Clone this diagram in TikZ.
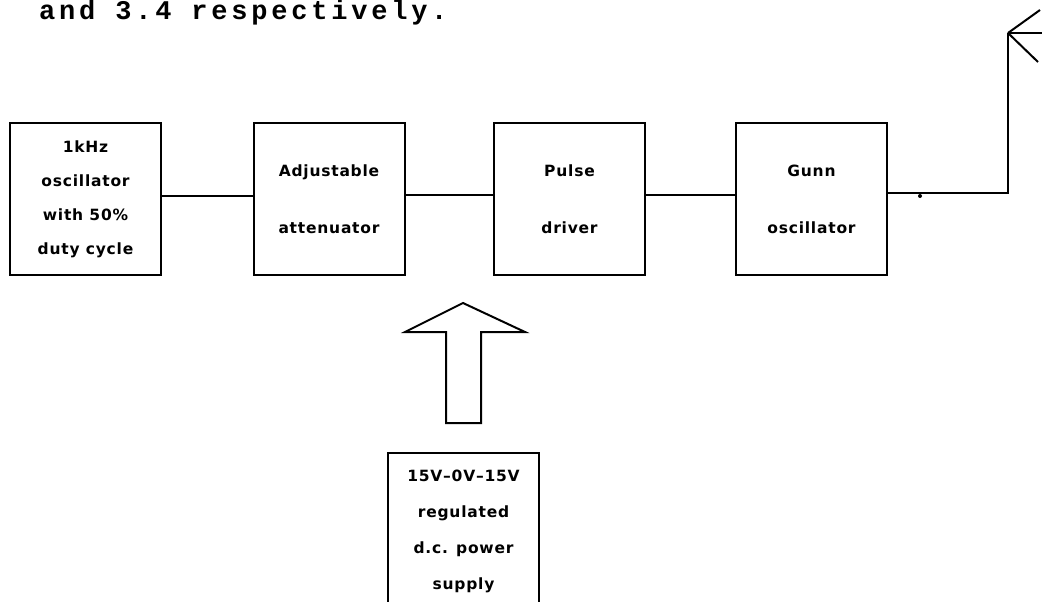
\documentclass[tikz,border=0pt]{standalone}
\usepackage{fontspec}
\newfontfamily\boxfont[LetterSpace=5]{DejaVu Sans Bold}
\newfontfamily\typewriter[LetterSpace=14]{Liberation Mono Bold}
\begin{document}
\begin{tikzpicture}[x=1pt,y=-1pt,
  wire/.style={line width=2pt},
  block/.style={draw,line width=2pt,minimum width=151pt,minimum height=152pt,
    align=center,inner sep=0pt,font=\boxfont\fontsize{15.5}{57}\selectfont},
  dense/.style={font=\boxfont\fontsize{15.5}{34}\selectfont}]
\clip (0,0) rectangle (1042,602);
\fill[white] (0,0) rectangle (1042,602);

% running text above the figure
\node[anchor=base west,inner sep=0pt,font=\typewriter\fontsize{27}{27}\selectfont]
  (caption) at (39,20) {and 3.4 respectively.};

% signal chain
\node[block,dense] (osc)   at (85.5,199) {1kHz\\oscillator\\with 50\%\\duty cycle};
\node[block]       (att)   at (329,199)  {Adjustable\\attenuator};
\node[block]       (drv)   at (569.5,199){Pulse\\driver};
\node[block]       (gunn)  at (811.5,199){Gunn\\oscillator};

% power supply (runs off the bottom edge)
\node[block,minimum height=156pt,font=\boxfont\fontsize{15.5}{36}\selectfont]
  (psu) at (463.5,531) {15V–0V–15V\\regulated\\d.c. power\\supply};

\draw[wire] ([yshift=3pt]osc.east) -- ([yshift=3pt]att.west);
\draw[wire] ([yshift=4pt]att.east) -- ([yshift=4pt]drv.west);
\draw[wire] ([yshift=4pt]drv.east) -- ([yshift=4pt]gunn.west);

% output to the antenna
\coordinate (feed) at (1008,33);
\draw[wire] ([yshift=6pt]gunn.east) -| (feed);
\fill (920,196) circle (2pt);
\draw[wire] (feed) -- (1040,10);
\draw[wire] (feed) -- (1042,33);
\draw[wire] (feed) -- (1038,62);

% hollow supply arrow
\draw[wire,line join=miter]
  ([shift={(-17.5,-29)}]psu.north) -- ++(0,-91) -- ++(-41,0)
  -- ++(58,-29) -- ++(62,29) -- ++(-44,0) -- ++(0,91) -- cycle;
\end{tikzpicture}
\end{document}
